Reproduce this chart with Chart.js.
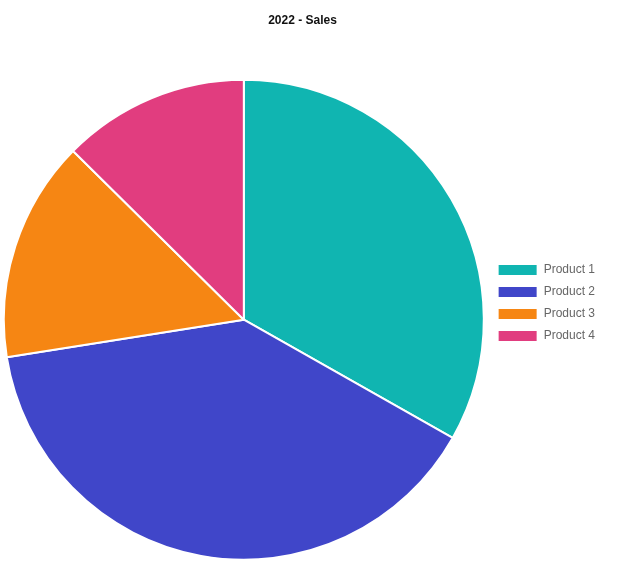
<!DOCTYPE html>
<html lang="en">
<head>
    <meta charset="UTF-8">
    <title>2022 - Sales</title>
    <script src="https://cdn.jsdelivr.net/npm/chart.js@4.4.1/dist/chart.umd.min.js"></script>
    <style>
        body {
            margin: 0;
            background: #ffffff;
            overflow: hidden;
        }
        #salesChart {
            display: block;
        }
    </style>
</head>
<body>
    <canvas id="salesChart" width="606" height="606"></canvas>

    <script>
        const products = ['Product 1', 'Product 2', 'Product 3', 'Product 4'];
        const sales2022 = [332, 393, 149, 126];
        const productColors = ['#10b5b1', '#4046c9', '#f68613', '#e13d7f'];

        Chart.defaults.font.family = "'Liberation Sans', Arial, sans-serif";
        Chart.defaults.color = '#666';

        const ctx = document.getElementById('salesChart').getContext('2d');
        new Chart(ctx, {
            type: 'pie',
            data: {
                labels: products,
                datasets: [{
                    data: sales2022,
                    backgroundColor: productColors,
                    borderColor: '#ffffff',
                    borderWidth: 2
                }]
            },
            options: {
                responsive: false,
                animation: false,
                radius: 240,
                layout: {
                    padding: { right: 1 }
                },
                plugins: {
                    title: {
                        display: true,
                        text: '2022 - Sales',
                        color: '#111',
                        font: { size: 12, weight: 'bold' },
                        padding: { top: 13, bottom: 6 }
                    },
                    legend: {
                        position: 'right',
                        labels: {
                            boxWidth: 40,
                            font: { size: 12 }
                        }
                    },
                    tooltip: { enabled: false }
                }
            }
        });
    </script>
</body>
</html>
